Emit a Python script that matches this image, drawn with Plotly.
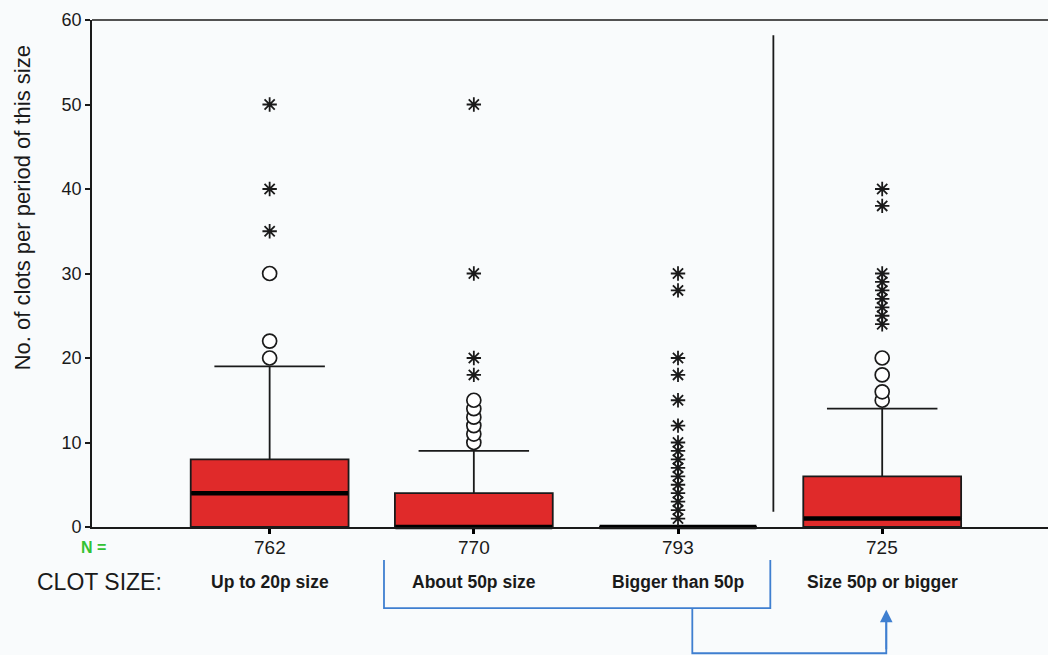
import plotly.graph_objects as go

# ---- data -------------------------------------------------------------
groups = ["Up to 20p size", "About 50p size", "Bigger than 50p", "Size 50p or bigger"]
n_counts = [762, 770, 793, 725]
positions = [1, 2, 3, 4]

q1 = [0, 0, 0, 0]
median = [4, 0, 0, 1]
q3 = [8, 4, 0, 6]
lower_whisker = [0, 0, 0, 0]
upper_whisker = [19, 9, 0, 14]

# outliers (open circles) and extreme values (asterisks) per group
outliers = [
    [20, 22, 30],
    [10, 11, 12, 13, 14, 15],
    [],
    [15, 16, 18, 20],
]
extremes = [
    [35, 40, 50],
    [18, 20, 30, 50],
    [1, 2, 3, 4, 5, 6, 7, 8, 9, 10, 12, 15, 18, 20, 28, 30],
    [24, 25, 26, 27, 28, 29, 30, 38, 40],
]

y_ticks = [0, 10, 20, 30, 40, 50, 60]

# ---- styling ----------------------------------------------------------
RED = "#e02a2a"
INK = "#1a1a1a"
BLUE = "#3f7fd0"
BG = "#f9fbfc"
FONT = "Liberation Sans, Arial, sans-serif"
BOX_W = 0.773

fig = go.Figure()

for i, pos in enumerate(positions):
    fig.add_trace(go.Box(
        x=[pos], q1=[q1[i]], median=[median[i]], q3=[q3[i]],
        lowerfence=[lower_whisker[i]], upperfence=[upper_whisker[i]],
        width=BOX_W, whiskerwidth=0.70,
        fillcolor=RED, line=dict(color=INK, width=1.8),
        boxpoints=False, hoverinfo="skip", showlegend=False,
    ))

# thick median bars drawn over the boxes (line-ew spans 1.4 x marker size)
fig.add_trace(go.Scatter(
    x=positions, y=median, mode="markers",
    marker=dict(symbol="line-ew", size=112, color="#000000",
                line=dict(color="#000000", width=4.5)),
    cliponaxis=False, hoverinfo="skip", showlegend=False,
))

ox, oy, ex, ey = [], [], [], []
for pos, vals in zip(positions, outliers):
    ox += [pos] * len(vals)
    oy += vals
for pos, vals in zip(positions, extremes):
    ex += [pos] * len(vals)
    ey += vals

fig.add_trace(go.Scatter(
    x=ox, y=oy, mode="markers",
    marker=dict(symbol="circle", size=14, color="white",
                line=dict(color=INK, width=1.7)),
    cliponaxis=False, hoverinfo="skip", showlegend=False,
))
fig.add_trace(go.Scatter(
    x=ex, y=ey, mode="markers",
    marker=dict(symbol="asterisk-open", size=12, color=INK,
                line=dict(color=INK, width=1.8)),
    cliponaxis=False, hoverinfo="skip", showlegend=False,
))

# group sizes along the category axis, group names below them
annotations = [
    dict(x=pos, y=-0.041, xref="x", yref="paper", text=str(n),
         showarrow=False, font=dict(size=19, color=INK, family=FONT), yanchor="middle")
    for pos, n in zip(positions, n_counts)
]
annotations += [
    dict(x=pos, y=-0.108, xref="x", yref="paper", text=f"<b>{g}</b>",
         showarrow=False, font=dict(size=17.5, color=INK, family=FONT), yanchor="middle")
    for pos, g in zip(positions, groups)
]
annotations += [
    dict(x=0.002, y=-0.04, xref="paper", yref="paper", text="<b>N =</b>",
         xanchor="center", yanchor="middle",
         showarrow=False, font=dict(size=16, color="#33c233", family=FONT)),
    dict(x=-0.06, y=-0.108, xref="paper", yref="paper", text="CLOT SIZE:",
         xanchor="left", yanchor="middle", showarrow=False,
         font=dict(size=23, color=INK, family=FONT)),
    dict(x=-0.073, y=0.629, xref="paper", yref="paper",
         text="No. of clots per period of this size", textangle=-90,
         xanchor="center", yanchor="middle", showarrow=False,
         font=dict(size=22, color=INK, family=FONT)),
    # arrow from the combined bracket up to the merged group
    dict(x=4.02, y=-0.163, xref="x", yref="paper", ax=0, ay=41,
         axref="pixel", ayref="pixel", text="", showarrow=True,
         arrowhead=2, arrowsize=1.4, arrowwidth=1.8, arrowcolor=BLUE),
]

shapes = [
    # top frame line
    dict(type="line", xref="paper", yref="paper", x0=0, x1=1, y0=1, y1=1,
         line=dict(color=INK, width=1.6)),
    # divider between the separate and merged groups
    dict(type="line", xref="x", yref="y", x0=3.467, x1=3.467, y0=1.8, y1=58.2,
         line=dict(color=INK, width=1.8)),
    # bracket joining "About 50p" and "Bigger than 50p"
    dict(type="path", xref="x", yref="paper",
         path="M 1.56,-0.065 L 1.56,-0.16 L 3.452,-0.16 L 3.452,-0.065",
         line=dict(color=BLUE, width=1.8)),
    dict(type="path", xref="x", yref="paper",
         path="M 3.07,-0.16 L 3.07,-0.249 L 4.02,-0.249 L 4.02,-0.17",
         line=dict(color=BLUE, width=1.8)),
]

fig.update_layout(
    width=1048, height=655,
    margin=dict(l=92, r=0, t=20, b=128),
    paper_bgcolor=BG, plot_bgcolor=BG,
    font=dict(family=FONT, color=INK),
    annotations=annotations, shapes=shapes,
    showlegend=False,
)
fig.update_xaxes(
    range=[0.13, 4.812], tickvals=positions, ticktext=["", "", "", ""],
    ticks="outside", ticklen=5, tickwidth=3, tickcolor="#000000",
    showline=True, linecolor=INK, linewidth=1.8,
    showgrid=False, zeroline=False, fixedrange=True,
)
fig.update_yaxes(
    range=[0, 60], tickvals=y_ticks,
    ticks="outside", ticklen=5, tickwidth=1.8, tickcolor=INK,
    tickfont=dict(size=18, color=INK, family=FONT),
    showline=True, linecolor=INK, linewidth=1.8,
    showgrid=False, zeroline=False, fixedrange=True,
)

fig.write_html("out.html", config={"displayModeBar": False})
